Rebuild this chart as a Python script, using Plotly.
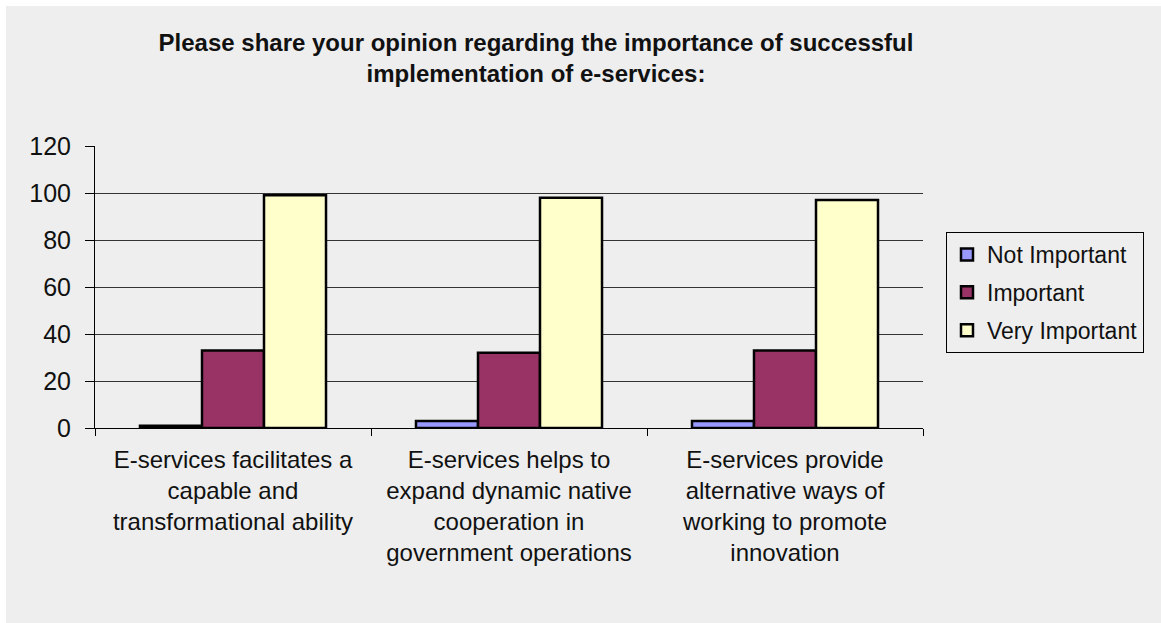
import plotly.graph_objects as go

# Survey statements (x categories) and response counts per rating
statements = [
    "E-services facilitates a<br>capable and<br>transformational ability",
    "E-services helps to<br>expand dynamic native<br>cooperation in<br>government operations",
    "E-services provide<br>alternative ways of<br>working to promote<br>innovation",
]
not_important = [1, 3, 3]
important = [33, 32, 33]
very_important = [99, 98, 97]

series_names = ["Not Important", "Important", "Very Important"]
series_values = [not_important, important, very_important]
series_colors = ["#9999ff", "#993366", "#ffffcc"]

y_ticks = [0, 20, 40, 60, 80, 100, 120]

title_text = ("Please share your opinion regarding the importance of successful"
              "<br>implementation of e-services:")

W, H = 1161, 623
ML, MR, MT, MB = 95, 238, 146, 195
PW, PH = W - ML - MR, H - MT - MB

fig = go.Figure()
for name, vals, col in zip(series_names, series_values, series_colors):
    fig.add_trace(go.Bar(
        x=statements, y=vals, name=name, legendgroup=name,
        marker=dict(color=col, line=dict(color="black", width=2.5)),
    ))


def px_x(px):
    return (px - ML) / PW


def px_y(py):
    return (H - MB - py) / PH


# thin white frame on the top and left edges of the chart canvas
frame = [
    dict(type="rect", xref="paper", yref="paper", layer="above",
         x0=px_x(-2), x1=px_x(6), y0=px_y(H + 2), y1=px_y(-2),
         fillcolor="white", line=dict(width=0)),
    dict(type="rect", xref="paper", yref="paper", layer="above",
         x0=px_x(-2), x1=px_x(W + 2), y0=px_y(6), y1=px_y(-2),
         fillcolor="white", line=dict(width=0)),
]

fig.update_layout(
    width=W, height=H,
    margin=dict(l=ML, r=MR, t=MT, b=MB, pad=0),
    paper_bgcolor="#eeeeee", plot_bgcolor="#eeeeee",
    font=dict(family="Liberation Sans, Arial, sans-serif", color="#111111"),
    barmode="group", bargap=0.326, bargroupgap=0,
    title=dict(text=title_text, xref="container", yref="container",
               x=536 / W, xanchor="center", y=1 - 51 / H, yanchor="top",
               font=dict(size=24, weight="bold", color="#111111")),
    legend=dict(x=px_x(946), y=px_y(232), xanchor="left", yanchor="top",
                bgcolor="#eeeeee", bordercolor="black", borderwidth=1,
                font=dict(size=23, color="#111111"),
                traceorder="grouped", tracegroupgap=5, itemwidth=30),
    shapes=frame,
    showlegend=True,
)

fig.update_xaxes(
    showline=True, linecolor="black", linewidth=1,
    ticks="outside", ticklen=7, tickcolor="black", tickson="boundaries",
    tickfont=dict(size=24, color="#111111"),
    showgrid=False, zeroline=False, tickangle=0,
    ticklabelstandoff=10,
)
fig.update_yaxes(
    range=[0, 120], tickvals=y_ticks,
    showline=True, linecolor="black", linewidth=1,
    ticks="outside", ticklen=9, tickcolor="black",
    tickfont=dict(size=25, color="#111111"),
    showgrid=True, gridcolor="#333333", gridwidth=1, zeroline=False,
    ticklabelstandoff=9,
)

fig.write_html("out.html")
